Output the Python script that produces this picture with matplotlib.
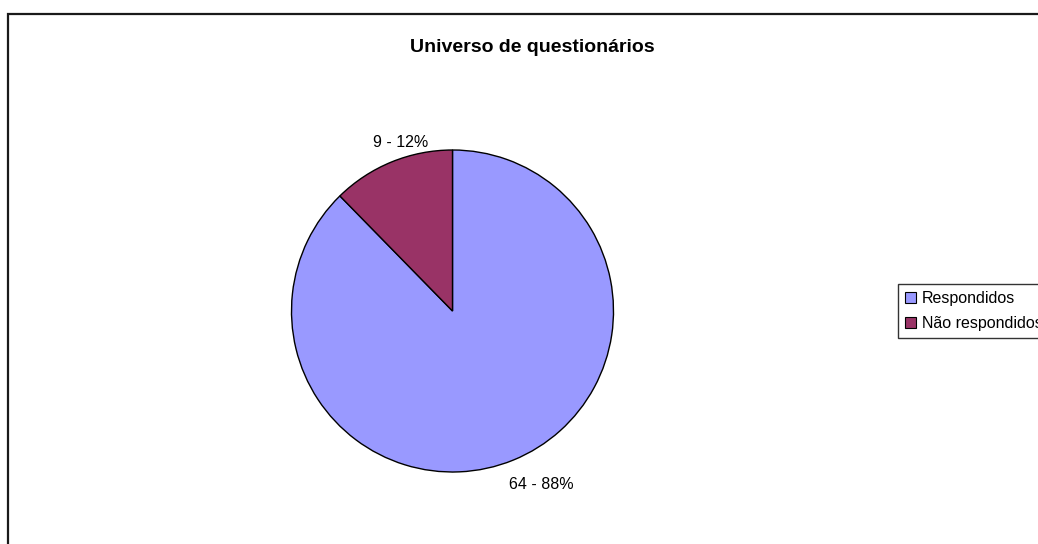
import matplotlib.pyplot as plt
from matplotlib.patches import Rectangle

# data
labels = ['Respondidos', 'Não respondidos']
counts = [64, 9]
colors = ['#9999FF', '#993366']
title = 'Universo de questionários'

plt.rcParams['font.family'] = ['Liberation Sans', 'DejaVu Sans']

W, H = 1038, 544
fig = plt.figure(figsize=(W / 100, H / 100), dpi=100)

# outer chart frame (right and bottom edges are cut off)
fig.add_artist(Rectangle((8 / W, -0.1), 1.2, 1.1 - 14 / H, transform=fig.transFigure,
                         fill=False, edgecolor='#1a1a1a', linewidth=1.6))

# pie axes: centre (452, 311), radius 161 px
cx, cy, r = 452.5, 311, 161
ax = fig.add_axes([(cx - r) / W, (H - cy - r) / H, 2 * r / W, 2 * r / H])
wedges, _ = ax.pie(counts, colors=colors, startangle=90, counterclock=False,
                   wedgeprops=dict(edgecolor='black', linewidth=1.0))
ax.set_xlim(-1, 1)
ax.set_ylim(-1, 1)

total = sum(counts)
texts = ['%d - %d%%' % (c, round(100 * c / total)) for c in counts]
ax.text(0.55, -1.08, texts[0], ha='center', va='center', fontsize=11.5)
ax.text(-0.32, 1.045, texts[1], ha='center', va='center', fontsize=11.5)

fig.text(532 / W, 1 - 47 / H, title, ha='center', va='center',
         fontsize=14, fontweight='bold')

leg = fig.legend(wedges, labels, loc='upper left',
                 bbox_to_anchor=(898 / W, 1 - 284 / H), borderaxespad=0,
                 fontsize=11.5, frameon=True, fancybox=False, edgecolor='black',
                 handlelength=0.7, handleheight=0.7, handletextpad=0.35,
                 borderpad=0.45, labelspacing=0.6)
leg.get_frame().set_linewidth(1.0)
for h in leg.legend_handles:
    h.set_linewidth(0.8)

fig.savefig('out.png', dpi=100)
